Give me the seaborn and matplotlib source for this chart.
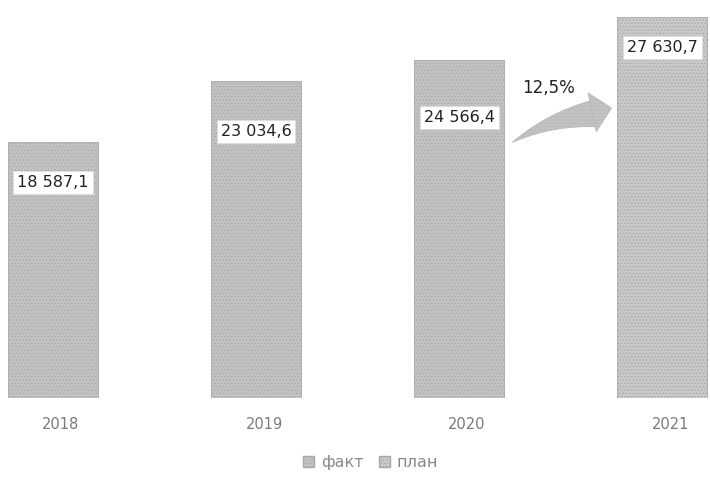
import pandas as pd
import seaborn as sns
import matplotlib.pyplot as plt
from matplotlib.patches import FancyArrowPatch, Patch
from matplotlib.transforms import ScaledTranslation

# данные
years = ['2018', '2019', '2020', '2021']
values = [18587.1, 23034.6, 24566.4, 27630.7]
kinds = ['факт', 'факт', 'факт', 'план']
labels = ['18 587,1', '23 034,6', '24 566,4', '27 630,7']
growth_label = '12,5%'

df = pd.DataFrame({'Год': years, 'Значение': values, 'Тип': kinds})

sns.set_style('white')
plt.rcParams['font.family'] = ['DejaVu Sans']
plt.rcParams['hatch.color'] = '#a6a6a6'
plt.rcParams['hatch.linewidth'] = 0.5

fig = plt.figure(figsize=(7.1, 4.83), dpi=100)
ax = fig.add_axes([0, 85 / 483, 1, 398 / 483])

palette = {'факт': '#c2c2c2', 'план': '#c8c8c8'}
sns.barplot(data=df, x='Год', y='Значение', hue='Тип', palette=palette,
            dodge=False, width=0.44, legend=False, ax=ax,
            edgecolor='#a8a8a8', linewidth=0.6)

for bar in ax.patches:
    bar.set_hatch('.....')

# подписи значений в белых рамках
frac = [0.84, 0.84, 0.83, 0.92]
for i, (v, lab) in enumerate(zip(values, labels)):
    ax.text(i, v * frac[i], lab, ha='center', va='center', fontsize=11.5,
            color='#222222',
            bbox=dict(boxstyle='square,pad=0.25', fc='white', ec='#dddddd', lw=0.6))

# стрелка роста: клин (узкий у начала) + наконечник
body = FancyArrowPatch((2.69, 20700), (2.25, 18450),
                       connectionstyle='arc3,rad=0.12',
                       arrowstyle='wedge,tail_width=1.0,shrink_factor=0.5',
                       mutation_scale=20, fc='#c2c2c2', ec='#b4b4b4', lw=0.4,
                       hatch='.....')
ax.add_patch(body)
head = FancyArrowPatch((2.67, 20800), (2.765, 21100),
                       arrowstyle='simple,head_length=0.9,head_width=1.8,tail_width=0.5',
                       mutation_scale=16, fc='#c2c2c2', ec='#b4b4b4', lw=0.4,
                       hatch='.....')
ax.add_patch(head)
ax.text(2.44, 22500, growth_label, ha='center', va='center', fontsize=12, color='#222222')

ax.set_xlim(-0.261, 3.236)
ax.set_ylim(0, 28900)
ax.set_xlabel('')
ax.set_ylabel('')
ax.set_yticks([])
ax.tick_params(axis='x', length=0, pad=14, labelsize=10.5, labelcolor='#7a7a7a')
for t in ax.get_xticklabels():
    t.set_transform(t.get_transform() + ScaledTranslation(0.08, 0, fig.dpi_scale_trans))
sns.despine(left=True, bottom=True, right=True, top=True)

handles = [Patch(fc=palette['факт'], ec='#a8a8a8', hatch='.....'),
           Patch(fc=palette['план'], ec='#a8a8a8', hatch='.....')]
fig.legend(handles, ['факт', 'план'], loc='center', bbox_to_anchor=(0.522, 0.042),
           ncol=2, frameon=False, fontsize=11.5, labelcolor='#888888',
           handlelength=0.7, handleheight=0.7, handletextpad=0.4, columnspacing=1.0)

plt.savefig('out.png', dpi=100)
